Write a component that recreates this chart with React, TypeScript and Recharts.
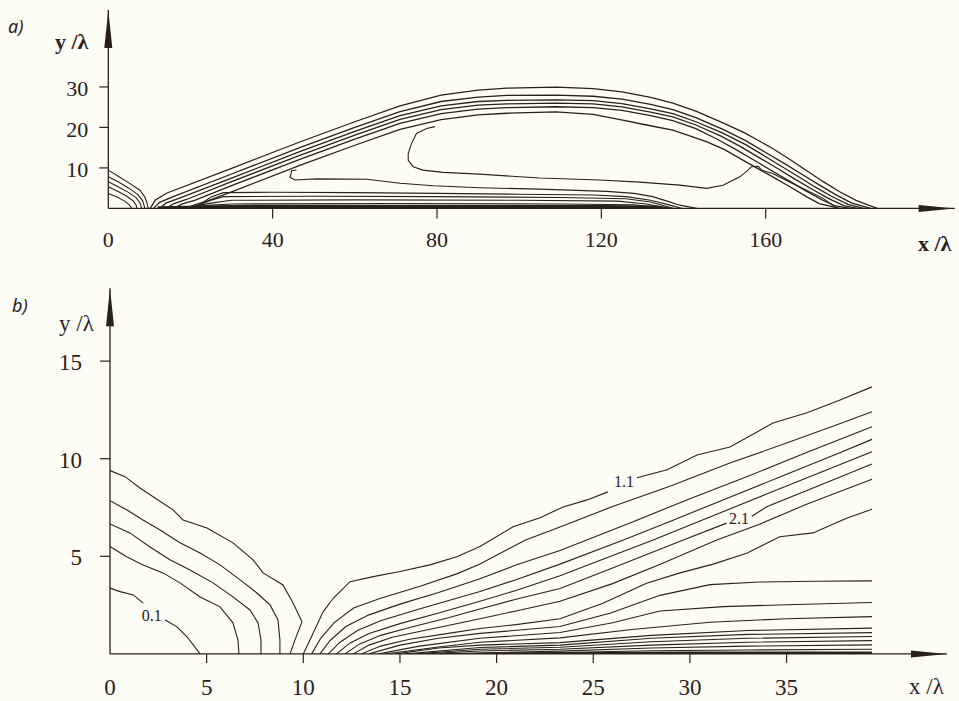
import React from "react";
import { LineChart, Line, XAxis, YAxis, ReferenceDot } from "recharts";

type Pt = [number, number];

const INK = "#2a201b";
const PAPER = "#fdfdf5";
const SERIF = "'Liberation Serif', 'Times New Roman', serif";

// ---- panel a: full wake, x/λ 0..200 ----
const aTicksX = [0, 40, 80, 120, 160];
const aTicksY = [10, 20, 30];

const aUp1: Pt[] = [[0, 9.46], [2.5, 7.9], [5, 6.3], [7.7, 4.5], [8.9, 2.8], [9.4, 1.4], [9.7, 0]];
const aUp2: Pt[] = [[0, 7.8], [2.5, 6.5], [5, 5.0], [7.2, 3.4], [8.4, 1.8], [8.9, 0]];
const aUp3: Pt[] = [[0, 6.57], [2.5, 5.3], [5, 3.9], [6.8, 2.6], [7.8, 1.2], [8.1, 0]];
const aUp4: Pt[] = [[0, 5.33], [2.5, 4.1], [4.5, 3.0], [6, 1.9], [6.8, 0.8], [6.9, 0]];
const aUp5: Pt[] = [[0, 3.7], [2, 2.9], [4, 1.8], [5.2, 0.8], [5.7, 0]];

const aArch0: Pt[] = [[10.2, 0], [11.4, 2.0], [14.3, 3.8], [30, 9.9], [46.6, 16.4], [60, 21.4], [71, 25.3], [81, 28.0], [90, 29.2], [97, 29.7], [109, 29.95], [118, 29.6], [125, 28.8], [132, 27.4], [137.4, 26.0], [143, 24.0], [149.6, 21.1], [155, 18.6], [161.7, 14.8], [166, 12.0], [170, 9.3], [174, 6.6], [178, 4.1], [182, 2.0], [185, 0.8], [187.2, 0]];
const aArch1: Pt[] = [[11, 0], [12.5, 1.5], [15.5, 2.8], [30, 8.5], [46.6, 15.0], [60, 20.0], [71, 23.9], [81, 26.4], [90, 27.5], [97, 27.9], [109, 28.0], [118, 27.7], [125, 27.0], [132, 25.7], [137.4, 24.4], [143, 22.4], [149.6, 19.5], [155, 16.8], [160, 13.8], [165, 10.8], [169, 8.3], [173, 5.8], [177, 3.4], [181, 1.3], [185.5, 0]];
const aArch2: Pt[] = [[12.5, 0], [14, 1.3], [17, 2.4], [30, 7.5], [46.6, 14.0], [60, 19.0], [71, 22.9], [81, 25.3], [90, 26.4], [97, 26.7], [109, 26.8], [118, 26.6], [125, 25.9], [132, 24.6], [137.4, 23.4], [143, 21.4], [149.6, 18.6], [155, 15.8], [159, 13.4], [164, 10.3], [168, 7.8], [172, 5.3], [176, 3.0], [180, 1.0], [183.8, 0]];
const aArch3: Pt[] = [[14, 0], [16, 1.2], [19, 2.2], [30, 6.6], [46.6, 13.1], [60, 18.1], [71, 22.0], [81, 24.4], [90, 25.5], [97, 25.8], [109, 26.0], [118, 25.8], [125, 25.1], [132, 23.8], [137.4, 22.6], [143, 20.6], [149, 17.9], [154, 15.2], [158, 12.8], [163, 9.8], [167, 7.3], [171, 4.9], [175, 2.6], [179, 0.7], [182.2, 0]];
const aArch4: Pt[] = [[16, 0], [18, 1.1], [21, 2.0], [30, 5.6], [46.6, 12.1], [60, 17.1], [71, 21.0], [81, 23.4], [90, 24.5], [97, 24.9], [109, 25.1], [118, 24.9], [125, 24.2], [132, 22.9], [137.4, 21.7], [143, 19.7], [148, 17.2], [153, 14.4], [157, 12.0], [162, 9.0], [166, 6.6], [170, 4.2], [174, 2.0], [177, 0.6], [180.5, 0]];
const aArch5: Pt[] = [[19, 0], [21, 0.9], [24, 1.8], [30, 4.1], [46.6, 10.6], [60, 15.6], [71, 19.5], [81, 21.9], [90, 23.1], [97, 23.5], [109, 23.85], [118, 23.2], [125.2, 21.8], [131, 20.6], [137.4, 19.35], [141.5, 17.9], [145.7, 16.45], [150, 14.5], [153.7, 12.35], [158, 9.9], [161.7, 7.8], [166, 5.3], [170, 2.86], [173, 1.2], [178, 0]];

const aHook: Pt[] = [[79.5, 20.2], [77.5, 19.75], [75, 18.5], [73.8, 16], [73, 13.6], [73, 11.9], [74.2, 10.3], [76.6, 9.46], [81.5, 8.9], [90.4, 8.47], [105, 7.5], [119.6, 7.0], [129.3, 6.5], [139.1, 5.75], [145.6, 4.94], [149.6, 5.7], [153.7, 7.8], [155.7, 9.46], [156.5, 10.3], [158.2, 10.4], [159, 9.46], [161.7, 8.64], [165.8, 6.5], [173.9, 2.54], [177.3, 0]];
const aFlag: Pt[] = [[45.8, 9.5], [44.6, 9.3], [44.5, 8.6], [44.2, 7.7], [45.4, 7.0], [50.7, 7.3], [62.9, 7.2], [71, 6.2], [79.1, 5.6], [90.4, 5.1], [105, 4.75], [121.3, 4.2], [128, 3.7], [132.5, 2.9], [136, 1.8], [139.1, 0.8], [143.2, 0]];

const aLow1: Pt[] = [[22, 0.8], [25, 2.8], [28, 3.9], [40, 4.0], [60, 3.9], [80, 3.7], [100, 3.5], [118, 3.3], [126, 2.9], [132, 2.0], [136, 1.0], [139.5, 0]];
const aLow2: Pt[] = [[21, 0.4], [25, 2.0], [28, 2.9], [50, 3.0], [80, 2.9], [110, 2.7], [126, 2.4], [132, 1.6], [137.5, 0]];
const aLow3: Pt[] = [[19, 0.2], [25, 1.3], [30, 2.0], [60, 2.1], [100, 2.0], [124, 1.8], [131, 1.1], [136.7, 0]];
const aLow4: Pt[] = [[17, 0], [25, 0.8], [30, 1.1], [70, 1.2], [110, 1.1], [128, 0.9], [135.9, 0]];
const aLow5: Pt[] = [[12, 0.1], [30, 0.45], [80, 0.5], [120, 0.45], [133, 0.3], [135, 0]];

// ---- panel b: near field, x/λ 0..40 ----
const bTicksX = [0, 5, 10, 15, 20, 25, 30, 35];
const bTicksY = [5, 10, 15];

const bLeft1: Pt[] = [[0, 9.39], [0.78, 9.08], [1.55, 8.5], [2.33, 7.99], [3.26, 7.38], [3.78, 6.86], [5.02, 6.45], [6.36, 5.69], [7.4, 4.82], [7.92, 4.15], [8.95, 3.53], [9.47, 2.61], [9.93, 1.64], [9.57, 0.72], [9.31, 0]];
const bLeft2: Pt[] = [[0, 7.85], [0.86, 7.38], [1.71, 6.86], [2.59, 6.35], [3.62, 5.69], [4.66, 5.17], [5.69, 4.56], [6.73, 3.79], [7.6, 3.12], [8.28, 2.51], [8.69, 1.74], [8.79, 0.72], [8.79, 0]];
const bLeft3: Pt[] = [[0, 6.66], [1.03, 6.2], [2.07, 5.48], [3.1, 4.82], [4.14, 4.3], [5.33, 3.64], [6.36, 2.92], [7.24, 2.25], [7.66, 1.59], [7.81, 0.72], [7.81, 0]];
const bLeft4: Pt[] = [[0, 5.5], [0.86, 4.98], [1.71, 4.56], [2.74, 4.15], [3.62, 3.64], [4.66, 2.92], [5.69, 2.41], [6.36, 1.59], [6.62, 0.72], [6.67, 0]];
const bLeft5a: Pt[] = [[0, 3.37], [0.52, 3.19], [1.21, 3.02], [1.72, 2.6]];
const bLeft5b: Pt[] = [[2.85, 1.74], [3.45, 1.4], [3.97, 0.89], [4.66, 0]];

const bRise1a: Pt[] = [[10.0, 0], [10.35, 0.72], [11.03, 2.17], [11.55, 2.85], [12.42, 3.7], [13.62, 3.96], [15.0, 4.22], [16.55, 4.56], [17.94, 4.98], [19.14, 5.5], [20.85, 6.51], [22.25, 6.97], [23.44, 7.53], [24.68, 7.89], [25.76, 8.3]];
const bRise1b: Pt[] = [[27.26, 9.02], [28.82, 9.43], [30.37, 10.19], [32.07, 10.6], [34.3, 11.83], [36.06, 12.35], [37.77, 13.01], [39.42, 13.68]];
const bRise2: Pt[] = [[10.43, 0], [10.9, 0.8], [11.6, 1.6], [12.6, 2.35], [14, 2.85], [16, 3.45], [17.94, 4.1], [19.14, 4.6], [21.5, 5.84], [23.28, 6.5], [26, 7.55], [29, 8.6], [32, 9.75], [35, 10.8], [37.5, 11.7], [39.42, 12.41]];
const bRise3: Pt[] = [[10.86, 0], [11.4, 0.7], [12.2, 1.4], [13.4, 2.0], [15, 2.55], [17, 3.15], [19.14, 3.85], [21, 4.55], [23.28, 5.3], [24.66, 5.84], [27, 6.75], [30, 7.95], [33, 9.1], [36, 10.3], [39.42, 11.64]];
const bRise4: Pt[] = [[11.29, 0], [11.9, 0.6], [12.8, 1.2], [14, 1.7], [16, 2.3], [19.14, 3.2], [21, 3.8], [23.28, 4.6], [26.56, 5.84], [29, 6.8], [32, 8.0], [35, 9.2], [37.5, 10.2], [39.42, 10.99]];
const bRise5: Pt[] = [[11.72, 0], [12.4, 0.55], [13.4, 1.05], [15, 1.55], [17, 2.1], [19.14, 2.7], [21, 3.25], [23.28, 4.0], [25.5, 4.85], [28.1, 5.84], [31, 7.0], [34, 8.2], [37, 9.4], [39.42, 10.36]];
const bRise6a: Pt[] = [[12.15, 0], [12.9, 0.5], [14, 0.95], [15.5, 1.35], [17.5, 1.85], [19.14, 2.3], [21, 2.8], [23.28, 3.35], [26, 4.4], [29.66, 5.84], [31.9, 6.7]];
const bRise6b: Pt[] = [[33.2, 7.05], [34, 7.55], [36.5, 8.55], [39.42, 9.73]];
const bRise7: Pt[] = [[12.58, 0], [13.4, 0.45], [14.6, 0.85], [16.5, 1.25], [19.14, 1.8], [21, 2.2], [23.28, 2.7], [26, 3.6], [28.5, 4.6], [31.39, 5.84], [33.5, 6.6], [36, 7.65], [39.42, 8.95]];
const bRise8: Pt[] = [[13.0, 0], [14, 0.4], [15.5, 0.75], [17.5, 1.05], [19.14, 1.3], [21, 1.5], [23.28, 1.8], [25.5, 2.6], [27.76, 3.62], [29.49, 4.15], [31.2, 4.6], [32.94, 5.16], [34.65, 6.0], [36.37, 6.2], [38.1, 6.95], [39.42, 7.41]];

const bFlat1: Pt[] = [[13.4, 0], [15, 0.45], [17, 0.8], [19.14, 1.05], [23.28, 1.4], [25.9, 2.1], [28.45, 3.0], [31.04, 3.55], [33.6, 3.68], [36.5, 3.72], [39.42, 3.74]];
const bFlat2: Pt[] = [[13.9, 0], [16, 0.4], [19.14, 0.8], [23.28, 1.1], [26, 1.6], [28.45, 2.2], [31.73, 2.42], [35, 2.52], [39.42, 2.63]];
const bFlat3: Pt[] = [[14.3, 0], [17, 0.35], [19.14, 0.6], [23.28, 0.82], [27, 1.25], [31.04, 1.62], [35, 1.8], [39.42, 1.91]];
const bFlat4: Pt[] = [[14.8, 0], [17, 0.3], [19.14, 0.45], [23.28, 0.58], [28, 0.95], [33, 1.2], [39.42, 1.32]];
const bFlat5: Pt[] = [[15.3, 0], [19.14, 0.33], [23.28, 0.45], [28, 0.8], [33, 1.0], [39.42, 1.09]];
const bFlat6: Pt[] = [[15.8, 0], [19.14, 0.24], [23.28, 0.34], [28, 0.62], [33, 0.8], [39.42, 0.89]];
const bFlat7: Pt[] = [[16.3, 0], [19.14, 0.15], [23.28, 0.24], [28, 0.45], [33, 0.6], [39.42, 0.68]];
const bFlat8: Pt[] = [[17, 0], [23.28, 0.14], [28, 0.3], [33, 0.4], [39.42, 0.46]];
const bFlat9: Pt[] = [[18, 0], [23.28, 0.07], [28, 0.16], [33, 0.2], [39.42, 0.24]];
const bFlat10: Pt[] = [[19, 0], [30, 0.06], [39.42, 0.06]];

// contour labels: [x, y, text]
const bLabels: [number, number, string][] = [
  [2.16, 1.95, "0.1"],
  [26.59, 8.79, "1.1"],
  [32.54, 6.92, "2.1"],
];

const rows = (pts: Pt[]) => pts.map(([x, y]) => ({ x, y }));

const aThin = [aUp1, aUp2, aUp3, aUp4, aUp5, aHook, aFlag, aLow1, aLow2, aLow3, aLow4];
const aBand = [aArch0, aArch1, aArch2, aArch3, aArch4, aArch5];
const bLines = [
  bLeft1, bLeft2, bLeft3, bLeft4, bLeft5a, bLeft5b,
  bRise1a, bRise1b, bRise2, bRise3, bRise4, bRise5, bRise6a, bRise6b, bRise7, bRise8,
  bFlat1, bFlat2, bFlat3, bFlat4, bFlat5, bFlat6, bFlat7, bFlat8, bFlat9,
];

const xTick = (len: number, dy: number, fs: number) => (props: any) => {
  const { x, y, payload } = props;
  return (
    <g>
      {payload.value !== 0 && (
        <line x1={x} x2={x} y1={y} y2={y + len} stroke={INK} strokeWidth={1.2} />
      )}
      <text x={x} y={y + dy} textAnchor="middle" fontFamily={SERIF} fontSize={fs} fill={INK}>
        {payload.value}
      </text>
    </g>
  );
};

const yTick = (len: number, dx: number, dy: number, fs: number) => (props: any) => {
  const { x, y, payload } = props;
  return (
    <g>
      <line x1={x - len} x2={x} y1={y} y2={y} stroke={INK} strokeWidth={1.2} />
      <text x={x - dx} y={y + dy} textAnchor="end" fontFamily={SERIF} fontSize={fs} fill={INK}>
        {payload.value}
      </text>
    </g>
  );
};

const arrowRight = (p: any) => (
  <path d={`M${p.cx},${p.cy} L${p.cx - 36},${p.cy - 3.5} L${p.cx - 36},${p.cy + 3.5} Z`} fill={INK} />
);
const arrowUp = (p: any) => (
  <path d={`M${p.cx},${p.cy} L${p.cx - 4},${p.cy + 38} L${p.cx + 4},${p.cy + 38} Z`} fill={INK} />
);

const contour = (pts: Pt[], key: string, width = 1) => (
  <Line
    key={key}
    data={rows(pts)}
    dataKey="y"
    type="linear"
    stroke={INK}
    strokeWidth={width}
    dot={false}
    activeDot={false}
    isAnimationActive={false}
  />
);

function PanelA() {
  return (
    <LineChart width={959} height={270} margin={{ top: 10, right: 4.3, bottom: 11.6, left: 0 }}>
      <XAxis
        type="number"
        dataKey="x"
        domain={[0, 206]}
        ticks={aTicksX}
        allowDataOverflow
        height={50}
        tickSize={0}
        tickMargin={0}
        tickLine={false}
        axisLine={{ stroke: INK, strokeWidth: 1.3 }}
        tick={xTick(10, 39, 22)}
      />
      <YAxis
        type="number"
        dataKey="y"
        domain={[0, 49]}
        ticks={aTicksY}
        allowDataOverflow
        width={108.3}
        tickSize={0}
        tickMargin={0}
        tickLine={false}
        axisLine={{ stroke: INK, strokeWidth: 1.3 }}
        tick={yTick(9, 20, 9.5, 22)}
      />
      {aBand.map((pts, i) => contour(pts, `arch${i}`, 1.3))}
      {aThin.map((pts, i) => contour(pts, `thin${i}`, 1.1))}
      {contour(aLow5, "base", 3.4)}
      <ReferenceDot x={206} y={0} r={0} ifOverflow="visible" shape={arrowRight} />
      <ReferenceDot x={0} y={49} r={0} ifOverflow="visible" shape={arrowUp} />
    </LineChart>
  );
}

function PanelB() {
  return (
    <LineChart width={959} height={441} margin={{ top: 28.3, right: 12, bottom: 7.1, left: 0 }}>
      <XAxis
        type="number"
        dataKey="x"
        domain={[0, 43.3]}
        ticks={bTicksX}
        allowDataOverflow
        height={40}
        tickSize={0}
        tickMargin={0}
        tickLine={false}
        axisLine={{ stroke: INK, strokeWidth: 1.3 }}
        tick={xTick(9, 41, 23)}
      />
      <YAxis
        type="number"
        dataKey="y"
        domain={[0, 18.73]}
        ticks={bTicksY}
        allowDataOverflow
        width={110}
        tickSize={0}
        tickMargin={0}
        tickLine={false}
        axisLine={{ stroke: INK, strokeWidth: 1.3 }}
        tick={yTick(10, 28, 9, 23)}
      />
      {bLines.map((pts, i) => contour(pts, `b${i}`, 1.1))}
      {contour(bFlat10, "bBase", 2.4)}
      {bLabels.map(([x, y, t]) => (
        <ReferenceDot
          key={t}
          x={x}
          y={y}
          r={0}
          ifOverflow="visible"
          shape={(p: any) => (
            <text x={p.cx} y={p.cy + 5} textAnchor="middle" fontFamily={SERIF} fontSize={16} fill={INK}>
              {t}
            </text>
          )}
        />
      ))}
      <ReferenceDot x={43.3} y={0} r={0} ifOverflow="visible" shape={arrowRight} />
      <ReferenceDot x={0} y={18.73} r={0} ifOverflow="visible" shape={arrowUp} />
    </LineChart>
  );
}

export default function App() {
  return (
    <div style={{ position: "fixed", left: 0, top: 0, width: 959, height: 701, background: PAPER, overflow: "hidden" }}>
      <div style={{ position: "absolute", left: 0, top: 0 }}>
        <PanelA />
      </div>
      <div style={{ position: "absolute", left: 0, top: 260 }}>
        <PanelB />
      </div>
      <svg width={959} height={701} style={{ position: "absolute", left: 0, top: 0, pointerEvents: "none" }}>
        <g fill={INK}>
          <text x={8} y={33} fontFamily="'Noto Sans', sans-serif" fontStyle="italic" fontSize={18}>a)</text>
          <text x={55} y={49} fontFamily={SERIF} fontWeight="bold" fontSize={22}>y /λ</text>
          <text x={918} y={251} fontFamily={SERIF} fontWeight="bold" fontSize={22}>x /λ</text>
          <text x={12} y={312} fontFamily="'Noto Sans', sans-serif" fontStyle="italic" fontSize={18}>b)</text>
          <text x={59} y={331} fontFamily={SERIF} fontSize={23}>y /λ</text>
          <text x={909} y={694} fontFamily={SERIF} fontSize={23}>x /λ</text>
        </g>
      </svg>
    </div>
  );
}
